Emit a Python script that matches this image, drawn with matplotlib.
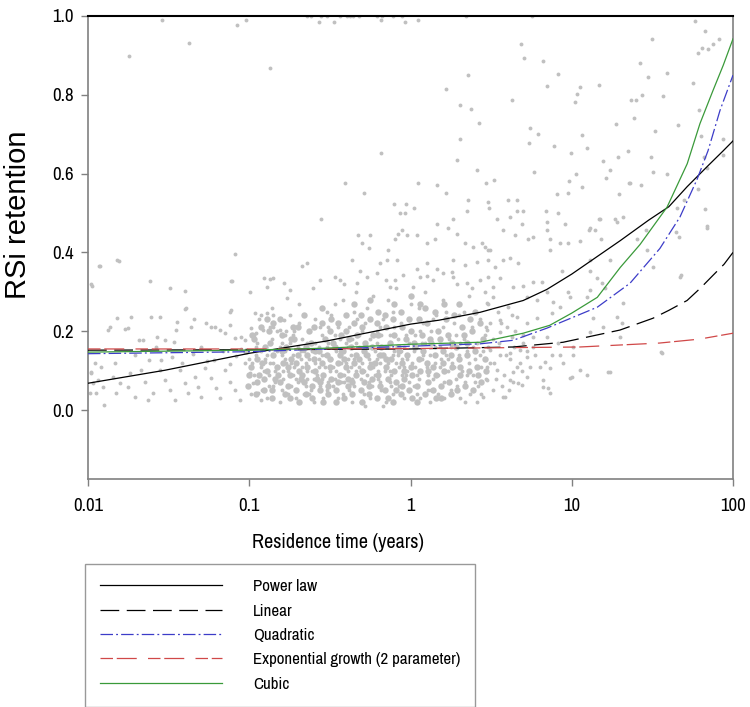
"""
plot.py

RSi retention vs residence time, with five fitted curves.
"""

import numpy as np
import matplotlib
matplotlib.use("Agg")
import matplotlib.pyplot as plt
from matplotlib.lines import Line2D
from matplotlib.ticker import FixedLocator, NullLocator

plt.rcParams["font.family"] = ["Archivo Narrow", "Liberation Sans", "DejaVu Sans"]

# ─────────────────────────────────────────────
# data (x given as log10 of residence time for the scatter)
# ─────────────────────────────────────────────

left_pts = [
    (-1.926, .365), (-1.82, .38), (-1.81, .378), (-1.616, .327), (-1.398, .301), (-1.491, .309),
    (-1.113, .327), (-0.995, .299), (-0.909, .334), (-0.871, .332), (-0.853, .334), (-0.89, .311),
    (-0.784, .322), (-1.98, .319), (-1.4, .256), (-1.39, .258), (-1.553, .235), (-1.609, .235),
    (-1.733, .235), (-1.82, .233), (-1.864, .21), (-1.876, .203), (-1.77, .205), (-1.75, .207),
    (-1.684, .177), (-1.659, .177), (-1.572, .185), (-1.454, .203), (-1.448, .223), (-1.343, .23),
    (-1.361, .21), (-1.467, .172), (-1.523, .177), (-1.578, .16), (-1.268, .22), (-1.237, .21),
    (-1.21, .21), (-1.181, .203), (-1.119, .215), (-1.113, .253), (-0.989, .208), (-0.964, .246),
    (-0.927, .241), (-0.89, .246), (-0.853, .241), (-0.784, .228), (-1.051, .185), (-1.026, .177),
    (-1.15, .195), (-1.088, .182), (-0.958, .195), (-0.915, .203), (-0.853, .21), (-0.809, .203),
    (-0.778, .19), (-1.957, .119), (-1.919, .109), (-1.938, .076), (-1.98, .094), (-1.907, .058),
    (-1.95, .043), (-1.9, .013), (-1.833, .119), (-1.845, .084), (-1.802, .068), (-1.826, .043),
    (-1.74, .094), (-1.752, .058), (-1.709, .033), (-1.671, .101), (-1.647, .071), (-1.597, .043),
    (-1.628, .025), (-1.553, .101), (-1.523, .076), (-1.491, .051), (-1.46, .025), (-1.429, .101),
    (-1.398, .068), (-1.38, .043), (-1.336, .084), (-1.318, .058), (-1.3, .033), (-1.274, .106),
    (-1.237, .081), (-1.206, .056), (-1.181, .03), (-1.15, .101), (-1.119, .071), (-1.088, .051),
    (-1.057, .025), (-1.026, .119), (-0.995, .094), (-0.977, .068), (-0.946, .043), (-0.927, .025),
    (-0.902, .122), (-1.975, .316), (-1.932, .365), (-1.107, .327), (-1.088, .397), (-1.119, .248),
    (-1.98, .096), (-1.969, .068), (-1.988, .043), (-1.62, .128), (-1.48, .135), (-1.35, .142),
    (-1.22, .128), (-1.08, .138), (-1.71, .14), (-1.3, .16), (-1.16, .15), (-1.05, .155),
    (-1.42, .12), (-1.55, .128), (-1.26, .125), (-1.12, .118), (-1.0, .13),
]

core_pts = [
    (-0.98, .12), (-0.95, .07), (-0.97, .19), (-0.93, .15), (-0.99, .04), (-0.91, .10), (-0.94, .23),
    (-0.96, .16), (-0.92, .05), (-0.90, .13), (-0.88, .09), (-0.86, .18), (-0.89, .03), (-0.85, .12),
    (-0.87, .21), (-0.84, .07), (-0.83, .15), (-0.86, .26), (-0.82, .11), (-0.81, .02), (-0.80, .17),
    (-0.79, .08), (-0.78, .13), (-0.77, .20), (-0.80, .05), (-0.76, .10), (-0.75, .24), (-0.78, .15),
    (-0.74, .06), (-0.73, .19), (-0.72, .11), (-0.71, .03), (-0.70, .16), (-0.73, .09), (-0.69, .22),
    (-0.68, .13), (-0.70, .07), (-0.67, .18), (-0.66, .04), (-0.69, .27), (-0.65, .12), (-0.64, .08),
    (-0.63, .20), (-0.66, .15), (-0.62, .05), (-0.61, .10), (-0.64, .17), (-0.60, .02), (-0.63, .13),
    (-0.59, .23), (-0.58, .09), (-0.57, .16), (-0.56, .06), (-0.59, .12), (-0.55, .19), (-0.54, .03),
    (-0.57, .11), (-0.53, .14), (-0.52, .25), (-0.55, .08), (-0.51, .17), (-0.50, .10), (-0.52, .05),
    (-0.51, .21), (-0.97, .09), (-0.93, .11), (-0.89, .14), (-0.85, .06), (-0.81, .16), (-0.77, .12),
    (-0.73, .14), (-0.69, .10), (-0.65, .06), (-0.61, .15), (-0.57, .13), (-0.53, .11), (-0.95, .17),
    (-0.91, .08), (-0.87, .12), (-0.83, .20), (-0.79, .10), (-0.75, .17), (-0.71, .08), (-0.67, .11),
    (-0.63, .04), (-0.59, .17), (-0.55, .14), (-0.51, .07), (-0.96, .14), (-0.88, .06), (-0.80, .14),
    (-0.72, .20), (-0.64, .10), (-0.56, .21), (-0.84, .10), (-0.76, .04), (-0.68, .15), (-0.60, .08),
    (-0.52, .16), (-0.74, .12),
    (-0.49, .13), (-0.48, .06), (-0.47, .19), (-0.46, .10), (-0.49, .24), (-0.45, .03), (-0.44, .15),
    (-0.47, .08), (-0.43, .12), (-0.42, .28), (-0.41, .09), (-0.40, .17), (-0.42, .04), (-0.39, .13),
    (-0.38, .21), (-0.41, .07), (-0.37, .11), (-0.36, .02), (-0.39, .16), (-0.35, .25), (-0.34, .10),
    (-0.33, .14), (-0.35, .06), (-0.32, .19), (-0.31, .08), (-0.34, .30), (-0.30, .12), (-0.29, .04),
    (-0.32, .16), (-0.28, .22), (-0.27, .09), (-0.26, .13), (-0.28, .01), (-0.25, .18), (-0.24, .06),
    (-0.27, .26), (-0.23, .11), (-0.22, .15), (-0.25, .03), (-0.21, .20), (-0.20, .08), (-0.19, .12),
    (-0.21, .17), (-0.18, .05), (-0.17, .23), (-0.20, .14), (-0.16, .10), (-0.15, .02), (-0.18, .19),
    (-0.14, .28), (-0.13, .07), (-0.12, .13), (-0.14, .16), (-0.11, .04), (-0.10, .21), (-0.13, .10),
    (-0.09, .12), (-0.08, .18), (-0.11, .25), (-0.07, .06), (-0.06, .15), (-0.05, .09), (-0.07, .11),
    (-0.04, .03), (-0.03, .19), (-0.06, .22), (-0.02, .13), (-0.01, .07), (-0.04, .16), (-0.00, .27),
    (-0.48, .11), (-0.44, .18), (-0.40, .12), (-0.36, .08), (-0.32, .11), (-0.28, .14), (-0.24, .12),
    (-0.20, .10), (-0.16, .16), (-0.12, .09), (-0.08, .14), (-0.04, .11), (-0.46, .15), (-0.42, .09),
    (-0.38, .05), (-0.34, .17), (-0.30, .20), (-0.26, .07), (-0.22, .09), (-0.18, .14), (-0.14, .12),
    (-0.10, .15), (-0.06, .04), (-0.02, .10), (-0.45, .21), (-0.37, .14), (-0.29, .10), (-0.21, .13),
    (-0.13, .19), (-0.05, .13), (-0.43, .07), (-0.35, .13), (-0.27, .16), (-0.19, .07), (-0.11, .14),
    (-0.03, .09), (-0.47, .27), (-0.33, .23), (-0.23, .29), (-0.09, .31), (-0.41, .32), (-0.15, .33),
    (-0.31, .02), (-0.17, .01), (-0.39, .10), (-0.25, .12), (-0.12, .06), (-0.01, .17), (-0.36, .18),
    (-0.19, .21),
    (0.01, .12), (0.02, .06), (0.03, .19), (0.04, .09), (0.05, .26), (0.02, .15), (0.06, .03),
    (0.07, .13), (0.08, .22), (0.05, .08), (0.09, .17), (0.10, .11), (0.11, .05), (0.12, .14),
    (0.09, .30), (0.13, .20), (0.14, .08), (0.12, .02), (0.15, .12), (0.16, .24), (0.17, .09),
    (0.18, .16), (0.19, .13), (0.17, .04), (0.20, .21), (0.21, .07), (0.22, .14), (0.20, .28),
    (0.23, .10), (0.24, .18), (0.25, .05), (0.26, .12), (0.27, .22), (0.25, .16), (0.28, .08),
    (0.29, .32), (0.30, .14), (0.31, .03), (0.28, .19), (0.32, .10), (0.33, .25), (0.34, .07),
    (0.35, .15), (0.36, .12), (0.33, .18), (0.37, .04), (0.38, .21), (0.39, .09), (0.36, .29),
    (0.40, .13), (0.41, .17), (0.42, .06), (0.43, .23), (0.44, .11), (0.41, .02), (0.45, .15),
    (0.46, .19), (0.47, .08), (0.48, .27), (0.49, .12), (0.03, .11), (0.07, .17), (0.11, .09),
    (0.15, .16), (0.19, .06), (0.23, .13), (0.27, .11), (0.31, .17), (0.35, .09), (0.39, .16),
    (0.43, .14), (0.47, .21), (0.06, .20), (0.14, .23), (0.22, .25), (0.30, .24), (0.38, .31),
    (0.46, .30), (0.10, .34), (0.26, .35), (0.04, .04), (0.13, .05), (0.21, .03), (0.34, .02),
    (0.44, .04), (0.08, .14), (0.18, .11), (0.29, .06), (0.40, .07), (0.48, .16),
    (0.52, .12), (0.55, .17), (0.58, .09), (0.60, .21), (0.62, .13), (0.64, .16), (0.66, .11),
    (0.54, .25), (0.57, .06), (0.59, .14), (0.63, .24), (0.68, .12), (0.70, .17), (0.51, .18),
    (0.53, .08), (0.56, .22), (0.61, .05), (0.65, .20), (0.69, .10), (0.72, .15),
]

# the densest part of the cloud (drawn with slightly bigger dots)
dense_pts = [
    (-1.01, .06), (-0.99, .11), (-1.02, .15), (-0.98, .19), (-1.00, .09),
    (-0.96, .04), (-0.94, .09), (-0.95, .13), (-0.97, .18), (-0.93, .21), (-0.95, .07),
    (-0.91, .05), (-0.89, .10), (-0.90, .16), (-0.92, .12), (-0.88, .20), (-0.91, .08), (-0.89, .23),
    (-0.86, .03), (-0.84, .08), (-0.85, .14), (-0.87, .17), (-0.83, .11), (-0.85, .22), (-0.86, .05),
    (-0.81, .07), (-0.79, .12), (-0.80, .19), (-0.82, .09), (-0.78, .04), (-0.80, .15), (-0.81, .23),
    (-0.76, .06), (-0.74, .13), (-0.75, .09), (-0.77, .16), (-0.73, .21), (-0.75, .03), (-0.74, .18), (-0.76, .11),
    (-0.71, .05), (-0.69, .10), (-0.70, .14), (-0.72, .18), (-0.68, .08), (-0.70, .21), (-0.71, .12), (-0.69, .02),
    (-0.66, .07), (-0.64, .11), (-0.65, .16), (-0.67, .09), (-0.63, .20), (-0.65, .04), (-0.64, .14), (-0.66, .24),
    (-0.61, .06), (-0.59, .10), (-0.60, .13), (-0.62, .17), (-0.58, .08), (-0.60, .21), (-0.61, .03), (-0.59, .15),
    (-0.56, .05), (-0.54, .09), (-0.55, .12), (-0.57, .15), (-0.53, .18), (-0.55, .22), (-0.56, .07), (-0.54, .02),
    (-0.55, .26), (-0.51, .04), (-0.49, .08), (-0.50, .11), (-0.52, .14), (-0.48, .17), (-0.50, .20), (-0.51, .06),
    (-0.49, .23), (-0.50, .13), (-0.46, .05), (-0.44, .09), (-0.45, .12), (-0.47, .16), (-0.43, .19), (-0.45, .22),
    (-0.46, .02), (-0.44, .14), (-0.45, .07), (-0.41, .03), (-0.39, .08), (-0.40, .11), (-0.42, .15), (-0.38, .18),
    (-0.40, .24), (-0.41, .13), (-0.39, .06), (-0.40, .20), (-0.36, .04), (-0.34, .09), (-0.35, .12), (-0.37, .16),
    (-0.33, .19), (-0.35, .22), (-0.36, .07), (-0.34, .14), (-0.35, .27), (-0.31, .05), (-0.29, .07), (-0.30, .10),
    (-0.32, .13), (-0.28, .17), (-0.30, .21), (-0.31, .24), (-0.29, .15), (-0.30, .02), (-0.26, .04), (-0.24, .08),
    (-0.25, .11), (-0.27, .14), (-0.23, .19), (-0.25, .23), (-0.26, .06), (-0.24, .16), (-0.25, .28), (-0.21, .03),
    (-0.19, .06), (-0.20, .09), (-0.22, .12), (-0.18, .16), (-0.20, .19), (-0.21, .22), (-0.19, .14), (-0.20, .25),
    (-0.16, .05), (-0.14, .08), (-0.15, .11), (-0.17, .14), (-0.13, .17), (-0.15, .21), (-0.16, .24), (-0.14, .03),
    (-0.15, .13), (-0.11, .02), (-0.09, .07), (-0.10, .10), (-0.12, .13), (-0.08, .16), (-0.10, .19), (-0.11, .23),
    (-0.09, .05), (-0.10, .27), (-0.06, .04), (-0.04, .08), (-0.05, .12), (-0.07, .15), (-0.03, .18), (-0.05, .21),
    (-0.06, .25), (-0.04, .10), (-0.05, .06), (-0.01, .05), (0.01, .09), (0.00, .11), (-0.02, .14), (0.02, .17),
    (0.00, .20), (-0.01, .23), (0.01, .03), (0.00, .29), (0.04, .06), (0.06, .10), (0.05, .13), (0.03, .16),
    (0.07, .19), (0.05, .23), (0.04, .02), (0.06, .27), (0.09, .04), (0.11, .07), (0.10, .12), (0.08, .15),
    (0.12, .18), (0.10, .22), (0.09, .26), (0.11, .10), (0.14, .05), (0.16, .09), (0.15, .14), (0.13, .17),
    (0.17, .20), (0.15, .25), (0.14, .11), (0.16, .03), (0.19, .06), (0.21, .10), (0.20, .15), (0.18, .18),
    (0.22, .23), (0.20, .12), (0.19, .03), (0.21, .27), (0.24, .07), (0.26, .11), (0.25, .14), (0.23, .19),
    (0.27, .24), (0.25, .04), (0.26, .17), (0.29, .05), (0.31, .09), (0.30, .13), (0.28, .16), (0.32, .21),
    (0.30, .27), (0.31, .11), (0.34, .06), (0.36, .10), (0.35, .14), (0.33, .19), (0.37, .23), (0.35, .17),
    (0.39, .05), (0.41, .11), (0.40, .15), (0.38, .20), (0.42, .09), (0.40, .25), (0.44, .07), (0.46, .13),
    (0.45, .18), (0.43, .22), (0.47, .10),
]

halo_pts = [
    (-0.053, .458), (-0.078, .446), (-0.022, .443), (-0.096, .435), (0.04, .443), (0.102, .423),
    (0.152, .435), (0.164, .473), (0.233, .463), (0.288, .448), (0.338, .423), (0.388, .413),
    (0.444, .425), (0.481, .405), (-0.326, .443), (-0.301, .423), (-0.257, .41), (-0.251, .443),
    (-0.14, .405), (-0.673, .365), (-0.642, .372), (-0.363, .38), (-0.313, .354), (-0.189, .372),
    (-0.146, .38), (-0.084, .38), (0.04, .359), (0.102, .372), (0.164, .359), (0.264, .38),
    (0.338, .367), (0.412, .375), (0.481, .38), (-0.468, .337), (-0.437, .329), (-0.561, .329),
    (-0.605, .309), (-0.747, .304), (-0.766, .284), (-0.27, .337), (-0.208, .347), (-0.096, .329),
    (-0.046, .342), (0.059, .337), (0.14, .329), (0.202, .347), (0.264, .337), (0.35, .322),
    (0.431, .329), (0.512, .311), (-0.332, .322), (-0.127, .311), (0.016, .311),
    (-0.871, .868), (0.22, .815), (0.357, .85), (0.307, .775), (0.375, .764), (0.425, .729),
    (0.307, .689), (-0.183, .653), (0.288, .635), (0.412, .608), (-0.406, .577), (-0.288, .552),
    (0.047, .577), (0.164, .572), (0.22, .552), (0.468, .575), (0.518, .585), (-0.555, .484),
    (-0.102, .524), (-0.028, .522), (-0.065, .50), (-0.034, .50), (0.022, .514), (0.357, .534),
    (0.35, .506), (0.48, .529), (0.487, .514), (0.536, .486), (0.264, .486),
]

right_pts = [
    (0.685, .929), (0.704, .894), (0.822, .886), (0.915, .853), (0.629, .787), (0.847, .823),
    (1.051, .82), (1.033, .803), (1.02, .782), (1.169, .825), (0.741, .716), (0.791, .701),
    (0.735, .678), (0.89, .671), (1.064, .699), (1.095, .666), (0.995, .653), (0.766, .605),
    (1.026, .6), (0.983, .582), (1.064, .567), (0.977, .552), (0.908, .549), (0.605, .534),
    (0.66, .534), (0.84, .506), (0.66, .504), (0.698, .504), (0.617, .491), (0.915, .499),
    (0.691, .473), (0.958, .471), (0.847, .478), (1.194, .633), (1.237, .61), (1.212, .59),
    (1.274, .727), (1.287, .643), (1.349, .658), (1.361, .575), (1.43, .572), (1.293, .549),
    (1.268, .484), (1.318, .489), (1.169, .486), (1.107, .458), (1.144, .458), (1.181, .435),
    (1.367, .787), (1.398, .787), (1.386, .742), (1.436, .80), (1.423, .881), (1.473, .846),
    (1.498, .942), (1.591, .856), (1.566, .797), (1.516, .709), (1.491, .641), (1.504, .603),
    (1.591, .60), (1.355, .575), (1.659, .724), (1.752, .83), (1.764, .987), (1.826, .962),
    (1.783, .906), (1.808, .919), (1.845, .916), (1.876, .929), (1.913, .942), (1.789, .762),
    (1.801, .696), (1.82, .641), (1.839, .613), (1.783, .562), (1.826, .509), (1.839, .466),
    (1.653, .514), (1.696, .532), (1.647, .453), (1.665, .438), (1.938, .689), (1.938, .646),
    (1.46, .456), (0.729, .435), (0.76, .438), (0.865, .435), (0.977, .423), (0.847, .456),
    (0.574, .456), (0.648, .443), (0.462, .413), (0.493, .405), (0.574, .38), (0.617, .387),
    (0.667, .372), (0.524, .362), (0.481, .337), (0.555, .334), (0.636, .311), (0.698, .316),
    (0.76, .324), (0.815, .324), (0.847, .299), (0.723, .286), (0.785, .278), (0.884, .273),
    (0.512, .286), (0.474, .271), (0.605, .261), (0.66, .235), (0.555, .228), (0.493, .22),
    (0.723, .22), (0.785, .233), (0.877, .246), (0.927, .261), (0.989, .286), (0.977, .299),
    (1.095, .286), (1.113, .304), (1.188, .322), (1.206, .309), (1.113, .354), (1.237, .38),
    (1.113, .38), (1.157, .334), (1.318, .271), (1.051, .43), (0.94, .354), (0.927, .423),
    (0.865, .405), (0.474, .203), (0.555, .197), (0.63, .185), (0.698, .19), (0.76, .185),
    (0.847, .185), (0.493, .152), (0.555, .139), (0.617, .144), (0.679, .152), (0.723, .134),
    (0.772, .139), (0.834, .122), (0.877, .139), (0.946, .119), (1.008, .139), (1.051, .101),
    (1.225, .096), (0.989, .081), (0.853, .056), (0.822, .076), (0.667, .068), (0.574, .033),
    (0.512, .051), (0.45, .033), (0.536, .101), (0.474, .109), (0.636, .096), (0.741, .109),
    (0.474, .076), (0.617, .076), (0.723, .084), (0.803, .109), (0.865, .106), (0.927, .139),
    (0.76, .16), (1.554, .147), (0.915, .17), (1.008, .16), (1.113, .197), (1.194, .21),
    (1.281, .235), (1.132, .233), (1.312, .22), (1.299, .185), (1.504, .362), (1.671, .337),
    (1.68, .343), (1.839, .463), (1.467, .405), (1.405, .435), (1.281, .476), (1.175, .486),
    (1.113, .461), (1.0, .084), (0.865, .043), (0.822, .058), (1.095, .089), (1.237, .096),
    (1.56, .144), (0.586, .033), (0.636, .071), (0.691, .063),
]

top_pts = [
    (-0.642, 1.0), (-0.617, 1.0), (-0.567, .985), (-0.555, 1.0), (-0.518, 1.0), (-0.474, .985),
    (-0.437, 1.0), (-0.394, 1.0), (-0.375, 1.0), (-0.357, 1.0), (-0.319, 1.0), (-0.208, 1.0),
    (-0.183, .99), (-0.177, 1.0), (-0.109, 1.0), (-0.053, 1.0), (-0.034, .985), (0.047, .99),
    (0.344, 1.0), (0.753, 1.0), (-1.746, .899), (-1.541, .99), (-1.374, .932), (-1.076, .977),
    (-1.02, .99),
]

# fitted curves (x in years)
power_x = [0.01, 0.03, 0.1, 0.3, 1, 1.5, 2.7, 5, 7, 10, 20, 30, 40, 52, 70, 87, 100]
power_y = [0.068, 0.101, 0.144, 0.175, 0.218, 0.228, 0.248, 0.278, 0.306, 0.345, 0.43, 0.482,
           0.516, 0.567, 0.62, 0.658, 0.683]

linear_x = [0.01, 0.1, 1, 4.33, 8.83, 19.9, 31.9, 40, 51.9, 63, 75.2, 88, 100]
linear_y = [0.152, 0.153, 0.155, 0.16, 0.172, 0.203, 0.233, 0.253, 0.278, 0.31, 0.342, 0.37, 0.40]

quad_x = [0.01, 0.1, 0.3, 1, 2.7, 4.33, 7.03, 14.4, 23, 35.2, 46.9, 59.8, 70, 83, 100]
quad_y = [0.143, 0.148, 0.155, 0.162, 0.168, 0.177, 0.208, 0.261, 0.322, 0.41, 0.49, 0.585,
          0.658, 0.76, 0.85]

expo_x = [0.01, 0.1, 1, 11.2, 35, 62, 100]
expo_y = [0.155, 0.155, 0.156, 0.16, 0.17, 0.18, 0.195]

cubic_x = [0.01, 0.1, 0.3, 1, 2.7, 5, 7.3, 10, 14.4, 20, 26.5, 39, 52, 62.4, 75, 87, 100]
cubic_y = [0.147, 0.152, 0.157, 0.167, 0.172, 0.195, 0.215, 0.246, 0.286, 0.362, 0.42, 0.515,
           0.625, 0.727, 0.81, 0.875, 0.942]

x_ticks = [0.01, 0.1, 1, 10, 100]
x_tick_labels = ["0.01", "0.1", "1", "10", "100"]
y_ticks = [0.0, 0.2, 0.4, 0.6, 0.8, 1.0]
y_tick_labels = ["0.0", "0.2", "0.4", "0.6", "0.8", "1.0"]

legend_labels = ["Power law", "Linear", "Quadratic", "Exponential growth (2 parameter)", "Cubic"]

# ─────────────────────────────────────────────
# styles
# ─────────────────────────────────────────────

POINT_COLOR = "#c0c0c0"
AXIS_GREY = "#808080"

CURVE_STYLES = [
    dict(color="black", linewidth=0.9, linestyle="-"),
    dict(color="black", linewidth=0.9, linestyle=(0, (15, 6))),
    dict(color="#3c3cc8", linewidth=0.9, linestyle=(0, (10, 2.5, 1.5, 2.5))),
    dict(color="#d04848", linewidth=0.9, linestyle=(0, (10, 3, 16, 9))),
    dict(color="#3a9a3a", linewidth=0.9, linestyle="-"),
]

fig = plt.figure(figsize=(7.5, 7.07), dpi=100)
ax = fig.add_axes([88 / 750, 1 - 479 / 707, 645 / 750, 463 / 707])

for pts in (left_pts, core_pts, halo_pts, right_pts, top_pts):
    lx, yy = np.array(pts).T
    ax.plot(10 ** lx, yy, "o", ms=2.8, color=POINT_COLOR, mec="none", zorder=1)

lx, yy = np.array(dense_pts).T
ax.plot(10 ** lx, yy, "o", ms=4.6, color=POINT_COLOR, mec="none", zorder=1)

curves = [(power_x, power_y), (linear_x, linear_y), (quad_x, quad_y),
          (expo_x, expo_y), (cubic_x, cubic_y)]
for (cx, cy), style in zip(curves, CURVE_STYLES):
    ax.plot(cx, cy, zorder=3, **style)

ax.set_xscale("log")
ax.set_xlim(0.01, 100)
ax.set_ylim(-0.175, 1.0)
ax.xaxis.set_major_locator(FixedLocator(x_ticks))
ax.xaxis.set_minor_locator(NullLocator())
ax.set_xticklabels(x_tick_labels)
ax.set_yticks(y_ticks)
ax.set_yticklabels(y_tick_labels)

for side in ("left", "bottom", "right"):
    ax.spines[side].set_color(AXIS_GREY)
    ax.spines[side].set_linewidth(1.2)
ax.spines["top"].set_color("black")
ax.spines["top"].set_linewidth(1.5)

ax.tick_params(direction="out", length=5, width=1, color=AXIS_GREY, labelsize=13.5, labelcolor="black")
ax.tick_params(axis="x", pad=9)
ax.tick_params(axis="y", pad=5)

fig.text(338 / 750, 1 - 548 / 707, "Residence time (years)", ha="center", va="baseline", fontsize=14.5)
fig.text(18.5 / 750, 1 - 215 / 707, "RSi retention", ha="center", va="center", rotation=90,
         fontsize=21, family=["Liberation Sans", "DejaVu Sans"])

handles = [Line2D([], [], **style) for style in CURVE_STYLES]
leg = fig.legend(
    handles, legend_labels,
    loc="upper left", bbox_to_anchor=(85 / 750, 1 - 564 / 707),
    fontsize=12.2, frameon=True, fancybox=False, edgecolor=AXIS_GREY,
    handlelength=7.2, handletextpad=1.8, labelspacing=0.55, borderpad=0.9,
    borderaxespad=0,
)
leg.get_frame().set_linewidth(1.0)

fig.savefig("out.png", dpi=100)
